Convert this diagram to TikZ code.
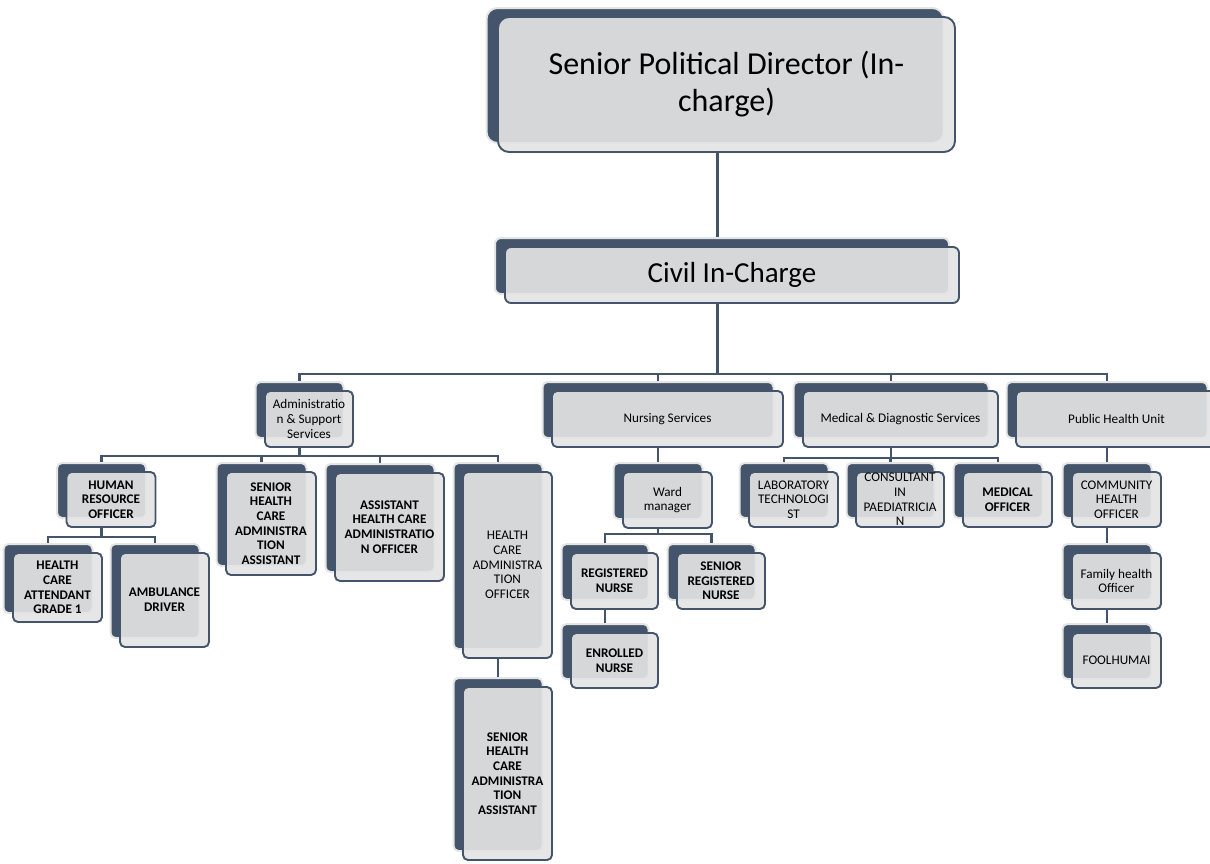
\documentclass[tikz,border=0pt]{standalone}
\usepackage{fontspec}
\setmainfont{Carlito}
\usetikzlibrary{shadows,backgrounds}
\definecolor{slate}{HTML}{44546A}
\definecolor{boxgray}{HTML}{E4E4E5}
\tikzset{backdrop/.style={general shadow={fill=slate, fill opacity=1,
			draw=black!10, line width=2pt, shadow xshift=#1, shadow yshift=9pt}},
	base/.style={draw=slate, line width=1.9pt, fill=boxgray, fill opacity=0.91,
			text opacity=1, align=center, inner sep=1pt},
	orgbox/.style={base, backdrop=-9.5pt, rounded corners=5pt,
			minimum width=89pt, minimum height=55pt,
			font=\fontsize{13.2}{14.7}\selectfont},
	bold/.style={font=\fontsize{13.2}{14.7}\selectfont\bfseries},
	topbox/.style={base, backdrop=-11.5pt, rounded corners=11pt,
			font=\fontsize{32}{37}\selectfont},
	civbox/.style={base, backdrop=-10pt, rounded corners=6pt,
			font=\fontsize{29}{34}\selectfont},
	link/.style={draw=slate, line width=2.5pt}}

\begin{document}
\begin{tikzpicture}
	[x=1pt, y=-1pt]
	\useasboundingbox (0,0) rectangle (1210,863);

	\node [topbox, minimum width=457pt, minimum height=135pt] (top) at (726.5,84.5) {Senior Political Director (In-\\charge)};
	\node [civbox, minimum width=454pt, minimum height=56pt] (civil) at (732,275) {Civil In-Charge};

	\node [orgbox, minimum width=88pt, minimum height=56pt] (adm) at (309,419) {Administratio\\n \& Support\\Services};
	\node [orgbox, minimum width=231pt, minimum height=56pt] (nurs) at (667.5,419) {Nursing Services};
	\node [orgbox, minimum width=195pt, minimum height=56pt] (med) at (900.5,419) {Medical \& Diagnostic Services};
	\node [orgbox, minimum width=201pt, minimum height=56pt] (pub) at (1116.5,419) {Public Health Unit};

	\node [orgbox, bold] (hr) at (111,499.5) {HUMAN\\RESOURCE\\OFFICER};
	\node [orgbox, bold, minimum width=90pt, minimum height=103pt] (shca) at (271,523.5) {SENIOR\\HEALTH\\CARE\\ADMINISTRA\\TION\\ASSISTANT};
	\node [orgbox, bold, minimum width=109pt, minimum height=108pt] (ahca) at (389.5,527) {ASSISTANT\\HEALTH CARE\\ADMINISTRATIO\\N OFFICER};
	\node [orgbox, minimum height=186pt] (hcao) at (507.5,565) {HEALTH\\CARE\\ADMINISTRA\\TION\\OFFICER};
	\node [orgbox, bold, minimum height=173pt] (shcb) at (507.5,773.5) {SENIOR\\HEALTH\\CARE\\ADMINISTRA\\TION\\ASSISTANT};
	\node [orgbox, minimum height=56pt] (ward) at (667.5,500) {Ward\\manager};
	\node [orgbox] (lab) at (793.5,499.5) {LABORATORY\\TECHNOLOGI\\ST};
	\node [orgbox, minimum width=88pt, inner ysep=0pt] (cons) at (900,499.5) {CONSULTANT\\IN\\PAEDIATRICIA\\N};
	\node [orgbox, bold] (mo) at (1007.5,499.5) {MEDICAL\\OFFICER};
	\node [orgbox] (cho) at (1116.5,499.5) {COMMUNITY\\HEALTH\\OFFICER};

	\node [orgbox, bold, minimum height=69pt] (hca) at (57.5,587.5) {HEALTH\\CARE\\ATTENDANT\\GRADE 1};
	\node [orgbox, bold, minimum height=94pt] (amb) at (164.5,600) {AMBULANCE\\DRIVER};
	\node [orgbox, bold, minimum width=87pt, minimum height=56pt] (rn) at (614.5,581) {REGISTERED\\NURSE};
	\node [orgbox, bold, minimum width=88pt, minimum height=56pt] (srn) at (721,581) {SENIOR\\REGISTERED\\NURSE};
	\node [orgbox, minimum height=56pt] (fho) at (1116.5,581) {Family health\\Officer};

	\node [orgbox, bold, minimum width=87pt] (en) at (614.5,660.5) {ENROLLED\\NURSE};
	\node [orgbox] (fool) at (1116.5,660.5) {FOOLHUMAI};

	\begin{scope}[on background layer]
		\draw [link, line width=3pt] ([xshift=-9.5pt]top.south) -- ([xshift=-15pt]civil.north);
		\draw [link, line width=3pt] ([xshift=-15pt]civil.south) -- ++(0,70);
		\draw [link] ([xshift=-15pt]civil.south) ++(0,70) -| ([xshift=-9.5pt]adm.north);
		\draw [link] ([xshift=-15pt]civil.south) ++(0,70) -| ([xshift=-9.5pt]nurs.north);
		\draw [link] ([xshift=-15pt]civil.south) ++(0,70) -| ([xshift=-9.5pt]med.north);
		\draw [link] ([xshift=-15pt]civil.south) ++(0,70) -| ([xshift=-9.5pt]pub.north);

		\draw [link] ([xshift=-9.5pt]adm.south) -- ++(0,8) -| ([xshift=-9.5pt]hr.north);
		\draw [link] ([xshift=-9.5pt]adm.south) -- ++(0,8) -| ([xshift=-9.5pt]shca.north);
		\draw [link] ([xshift=-9.5pt]adm.south) -- ++(0,8) -| ([xshift=-9.5pt]ahca.north);
		\draw [link] ([xshift=-9.5pt]adm.south) -- ++(0,8) -| ([xshift=-9.5pt]hcao.north);
		\draw [link] ([xshift=-9.5pt]hr.south) -- ++(0,9) -| ([xshift=-9.5pt]hca.north);
		\draw [link] ([xshift=-9.5pt]hr.south) -- ++(0,9) -| ([xshift=-9.5pt]amb.north);
		\draw [link] ([xshift=-9.5pt]hcao.south) -- ([xshift=-9.5pt]shcb.north);

		\draw [link] ([xshift=-9.5pt]nurs.south) -- ([xshift=-9.5pt]ward.north);
		\draw [link] ([xshift=-9.5pt]ward.south) -- ++(0,5) -| ([xshift=-9.5pt]rn.north);
		\draw [link] ([xshift=-9.5pt]ward.south) -- ++(0,5) -| ([xshift=-9.5pt]srn.north);
		\draw [link] ([xshift=-9.5pt]rn.south) -- ([xshift=-9.5pt]en.north);

		\draw [link] ([xshift=-9.5pt]med.south) -- ++(0,10) -| ([xshift=-9.5pt]lab.north);
		\draw [link] ([xshift=-9.5pt]med.south) -- ++(0,10) -| ([xshift=-9.5pt]cons.north);
		\draw [link] ([xshift=-9.5pt]med.south) -- ++(0,10) -| ([xshift=-9.5pt]mo.north);

		\draw [link] ([xshift=-9.5pt]pub.south) -- ([xshift=-9.5pt]cho.north);
		\draw [link] ([xshift=-9.5pt]cho.south) -- ([xshift=-9.5pt]fho.north);
		\draw [link] ([xshift=-9.5pt]fho.south) -- ([xshift=-9.5pt]fool.north);
	\end{scope}
\end{tikzpicture}
\end{document}
